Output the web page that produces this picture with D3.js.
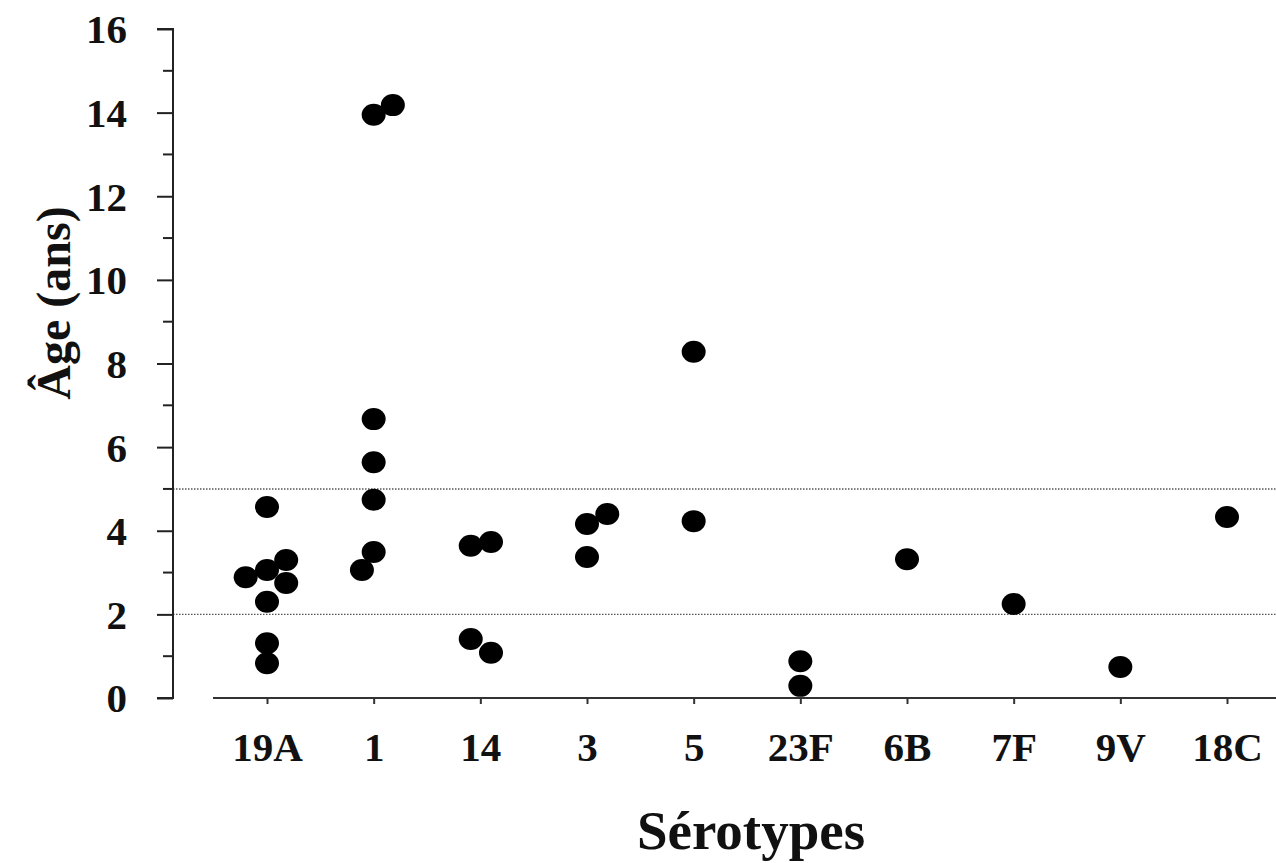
<!DOCTYPE html>
<html><head><meta charset="utf-8">
<script src="https://cdn.jsdelivr.net/npm/d3@7"></script>
<style>html,body{margin:0;padding:0;background:#fff;}svg{display:block;}</style>
</head><body>
<svg id="chart" width="1276" height="863"></svg>
<script>
// ---- data ----
const categories = ["19A","1","14","3","5","23F","6B","7F","9V","18C"];
// each point: [age (years), horizontal jitter in category units]
const points19A = [[4.57,0],[3.06,0],[3.30,0.18],[2.89,-0.2],[2.75,0.18],[2.30,0],[1.31,0],[0.83,0]];
const points1   = [[13.95,0],[14.18,0.18],[6.67,0],[5.64,0],[4.74,0],[3.49,0],[3.06,-0.11]];
const points14  = [[3.64,-0.09],[3.73,0.1],[1.41,-0.09],[1.08,0.1]];
const points3   = [[4.16,0],[4.40,0.19],[3.37,0]];
const points5   = [[8.28,0],[4.23,0]];
const points23F = [[0.88,0],[0.29,0]];
const points6B  = [[3.32,0]];
const points7F  = [[2.25,0]];
const points9V  = [[0.74,0]];
const points18C = [[4.33,0]];
const seriesByCategory = [points19A,points1,points14,points3,points5,points23F,points6B,points7F,points9V,points18C];
const yTicks = [0,2,4,6,8,10,12,14,16];
const yMinorTicks = [1,3,5,7,9,11,13,15];
const refLines = [2,5];
const xTitle = "Sérotypes";
const yTitle = "Âge (ans)";

// ---- drawing ----
const svg = d3.select("#chart");
const font = "'Liberation Serif','Times New Roman',serif";
const yAxisX = 173, xAxisStart = 213, rightEdge = 1276;

const y = d3.scaleLinear().domain([0,16]).range([698,29]);
const x = d3.scaleLinear().domain([0, categories.length-1]).range([267,1227]);

// reference dotted lines
svg.append("g").selectAll("line").data(refLines).join("line")
  .attr("x1", yAxisX).attr("x2", rightEdge)
  .attr("y1", d=>y(d)).attr("y2", d=>y(d))
  .attr("stroke","#555").attr("stroke-width",1.4).attr("stroke-dasharray","1.5,1.5");

// y axis
const yAxis = d3.axisLeft(y).tickValues(yTicks).tickSize(16).tickPadding(30).tickFormat(d3.format("d"));
const gy = svg.append("g").attr("transform",`translate(${yAxisX},0)`).call(yAxis);
gy.select(".domain").attr("stroke","#222").attr("stroke-width",2).attr("d",`M-16,${y(16)}H0V${y(0)}H-16`);
gy.selectAll(".tick line").attr("stroke","#222").attr("stroke-width",2);
gy.selectAll(".tick text").attr("font-family",font).attr("font-weight","bold").attr("font-size",41).attr("fill","#111").attr("dy","0.34em");
// minor ticks
svg.append("g").selectAll("line").data(yMinorTicks).join("line")
  .attr("x1", yAxisX-10).attr("x2", yAxisX).attr("y1", d=>y(d)).attr("y2", d=>y(d))
  .attr("stroke","#222").attr("stroke-width",2);

// x axis
const xAxis = d3.axisBottom(x).tickValues(d3.range(categories.length)).tickFormat(i=>categories[i]).tickSize(6).tickPadding(28);
const gx = svg.append("g").attr("transform",`translate(0,${y(0)})`).call(xAxis);
gx.select(".domain").attr("stroke","#333").attr("stroke-width",2).attr("d",`M${xAxisStart},0H${rightEdge}`);
gx.selectAll(".tick line").attr("stroke","#333").attr("stroke-width",2);
gx.selectAll(".tick text").attr("font-family",font).attr("font-weight","bold").attr("font-size",41).attr("fill","#111");

// points
const pts = [];
seriesByCategory.forEach((arr,i)=>arr.forEach(([v,j])=>pts.push({i, v, j})));
svg.append("g").selectAll("ellipse").data(pts).join("ellipse")
  .attr("cx", d=>x(d.i + d.j)).attr("cy", d=>y(d.v)).attr("rx", 12).attr("ry", 11).attr("fill","#000");

// titles
svg.append("text").attr("x", 751).attr("y", 849).attr("text-anchor","middle")
  .attr("font-family",font).attr("font-weight","bold").attr("font-size",55).attr("fill","#111").text(xTitle);
svg.append("text").attr("transform","translate(70,303) rotate(-90)").attr("text-anchor","middle")
  .attr("font-family",font).attr("font-weight","bold").attr("font-size",48).attr("fill","#111").text(yTitle);
</script>
</body></html>
